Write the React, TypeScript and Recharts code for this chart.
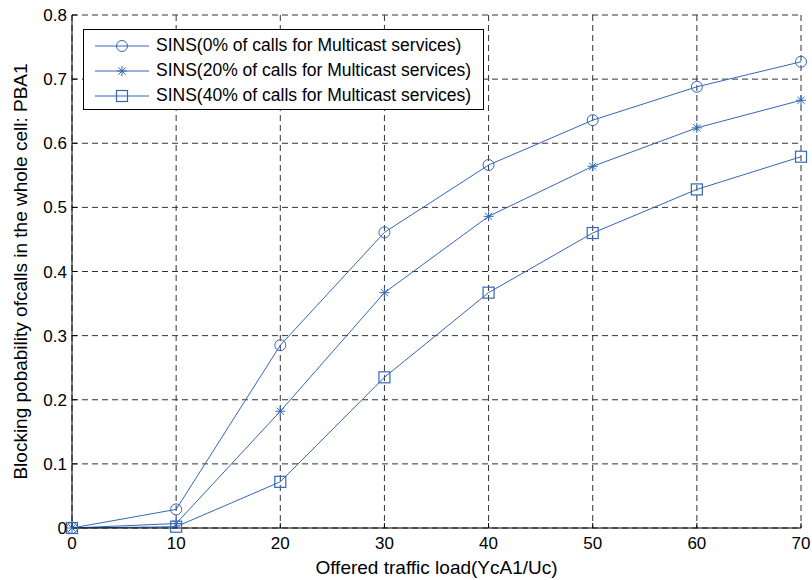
import React from 'react';
import { LineChart, Line, XAxis, YAxis, CartesianGrid, Legend } from 'recharts';

const loads = [0, 10, 20, 30, 40, 50, 60, 70];
const sins0 = [0, 0.029, 0.285, 0.461, 0.566, 0.636, 0.688, 0.727];
const sins20 = [0, 0.007, 0.182, 0.367, 0.486, 0.564, 0.624, 0.667];
const sins40 = [0, 0.002, 0.072, 0.235, 0.367, 0.46, 0.528, 0.579];

const xTicks = [0, 10, 20, 30, 40, 50, 60, 70];
const yTicks = [0, 0.1, 0.2, 0.3, 0.4, 0.5, 0.6, 0.7, 0.8];
const yTickLabels = ['0', '0.1', '0.2', '0.3', '0.4', '0.5', '0.6', '0.7', '0.8'];

const seriesKeys = ['s0', 's20', 's40'];
const seriesNames = [
  'SINS(0% of calls for Multicast services)',
  'SINS(20% of calls for Multicast services)',
  'SINS(40% of calls for Multicast services)',
];
const seriesMarkers = ['circle', 'star', 'square'];

const xLabel = 'Offered traffic load(YcA1/Uc)';
const yLabel = 'Blocking pobability ofcalls in the whole cell: PBA1';

const data = loads.map((x, i) => ({ x, s0: sins0[i], s20: sins20[i], s40: sins40[i] }));

const BLUE = '#3467b9';
const FONT = '"Liberation Sans", Arial, Helvetica, sans-serif';
const TICK_FS = 17;
const LEG_FS = 17.5;
const LABEL_FS = 19;

function Marker({ kind, cx, cy }: { kind: string; cx: number; cy: number }) {
  if (kind === 'circle') {
    return <circle cx={cx} cy={cy} r={5.5} fill="none" stroke={BLUE} strokeWidth={1} />;
  }
  if (kind === 'square') {
    return <rect x={cx - 5.5} y={cy - 5.5} width={11} height={11} fill="none" stroke={BLUE} strokeWidth={1.2} />;
  }
  const s = 5;
  const d = 3.6;
  return (
    <g stroke={BLUE} strokeWidth={1}>
      <line x1={cx - s} y1={cy} x2={cx + s} y2={cy} />
      <line x1={cx} y1={cy - s} x2={cx} y2={cy + s} />
      <line x1={cx - d} y1={cy - d} x2={cx + d} y2={cy + d} />
      <line x1={cx - d} y1={cy + d} x2={cx + d} y2={cy - d} />
    </g>
  );
}

function LegendBox() {
  return (
    <div
      style={{
        border: '1px solid #000',
        background: '#fff',
        width: 399,
        height: 76,
        boxSizing: 'content-box',
        fontFamily: FONT,
        fontSize: LEG_FS,
        color: '#000',
        paddingTop: 3,
      }}
    >
      {seriesNames.map((name, i) => (
        <div key={name} style={{ display: 'flex', alignItems: 'center', height: 25 }}>
          <svg width={70} height={20} style={{ marginLeft: 8, flex: 'none' }}>
            <line x1={3} y1={10} x2={57} y2={10} stroke={BLUE} strokeWidth={1} />
            <Marker kind={seriesMarkers[i]} cx={30} cy={10} />
          </svg>
          <span style={{ marginLeft: -6, whiteSpace: 'nowrap' }}>{name}</span>
        </div>
      ))}
    </div>
  );
}

export default function App() {
  return (
    <div style={{ position: 'absolute', left: 0, top: 0, background: '#fff' }}>
      <LineChart
        width={812}
        height={580}
        data={data}
        margin={{ top: 15, right: 11, bottom: 0, left: 0 }}
        style={{ fontFamily: FONT }}
      >
        <CartesianGrid stroke="#333" strokeDasharray="6 4" />
        <XAxis
          dataKey="x"
          type="number"
          domain={[0, 70]}
          ticks={xTicks}
          height={52}
          axisLine={{ stroke: '#000' }}
          tickLine={{ stroke: '#000' }}
          tickSize={-5}
          tickMargin={14}
          tick={{ fill: '#000', fontSize: TICK_FS, fontFamily: FONT }}
          label={{ value: xLabel, position: 'insideBottom', offset: 6, fill: '#000', fontSize: LABEL_FS, fontFamily: FONT }}
        />
        <XAxis
          xAxisId="top"
          dataKey="x"
          type="number"
          orientation="top"
          domain={[0, 70]}
          ticks={xTicks}
          height={0}
          axisLine={false}
          tickLine={{ stroke: '#000' }}
          tickSize={-5}
          tickFormatter={() => ''}
        />
        <YAxis
          type="number"
          domain={[0, 0.8]}
          ticks={yTicks}
          width={72}
          axisLine={{ stroke: '#000' }}
          tickLine={{ stroke: '#000' }}
          tickSize={-5}
          tickMargin={10}
          tickFormatter={(v: number) => yTickLabels[yTicks.indexOf(v)] ?? String(v)}
          tick={{ fill: '#000', fontSize: TICK_FS, fontFamily: FONT }}
          label={{
            value: yLabel,
            content: (props: any) => {
              const vb = props.viewBox || { x: 0, y: 15, width: 72, height: 513 };
              const cx = vb.x + 27;
              const cy = vb.y + vb.height / 2;
              return (
                <text
                  x={cx}
                  y={cy}
                  transform={`rotate(-90 ${cx} ${cy})`}
                  textAnchor="middle"
                  fill="#000"
                  fontSize={LABEL_FS}
                  fontFamily={FONT}
                >
                  {yLabel}
                </text>
              );
            },
          }}
        />
        <YAxis
          yAxisId="right"
          orientation="right"
          type="number"
          domain={[0, 0.8]}
          ticks={yTicks}
          width={0}
          axisLine={false}
          tickLine={{ stroke: '#000' }}
          tickSize={-5}
          tickFormatter={() => ''}
        />
        <Legend
          layout="horizontal"
          verticalAlign="middle"
          align="center"
          wrapperStyle={{ left: 83, top: 29, width: 'auto', height: 'auto' }}
          content={() => <LegendBox />}
        />
        {seriesKeys.map((k, i) => (
          <Line
            key={k}
            dataKey={k}
            name={seriesNames[i]}
            stroke={BLUE}
            strokeWidth={1}
            isAnimationActive={false}
            dot={(p: any) => <Marker key={`${k}-${p.index}`} kind={seriesMarkers[i]} cx={p.cx} cy={p.cy} />}
            activeDot={false}
          />
        ))}
      </LineChart>
    </div>
  );
}
